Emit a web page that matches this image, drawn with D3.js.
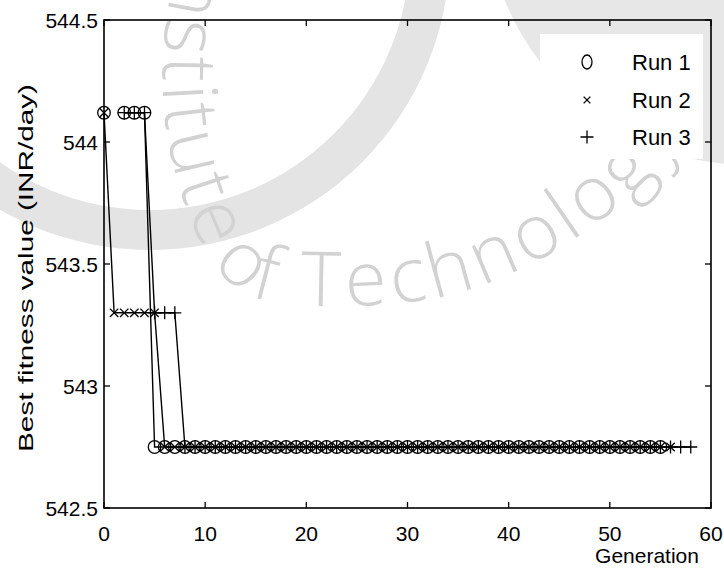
<!DOCTYPE html>
<html>
<head>
<meta charset="utf-8">
<script src="https://cdn.jsdelivr.net/npm/d3@7"></script>
<style>
  html, body { margin: 0; padding: 0; background: #fff; }
  svg { display: block; }
  text { font-family: "Liberation Sans", Arial, sans-serif; fill: #000; }
</style>
</head>
<body>
<svg id="chart" width="724" height="571"></svg>
<script>
// Best fitness value per generation (index = generation number); null = no sample
const run1 = [
  544.12, null, 544.12, 544.12, 544.12,
  542.75, 542.75, 542.75, 542.75, 542.75, 542.75, 542.75, 542.75, 542.75, 542.75,
  542.75, 542.75, 542.75, 542.75, 542.75, 542.75, 542.75, 542.75, 542.75, 542.75,
  542.75, 542.75, 542.75, 542.75, 542.75, 542.75, 542.75, 542.75, 542.75, 542.75,
  542.75, 542.75, 542.75, 542.75, 542.75, 542.75, 542.75, 542.75, 542.75, 542.75,
  542.75, 542.75, 542.75, 542.75, 542.75, 542.75, 542.75, 542.75, 542.75, 542.75,
  542.75
];
const run2 = [
  544.12, 543.30, 543.30, 543.30, 543.30, 543.30,
  542.75, 542.75, 542.75, 542.75, 542.75, 542.75, 542.75, 542.75, 542.75, 542.75,
  542.75, 542.75, 542.75, 542.75, 542.75, 542.75, 542.75, 542.75, 542.75, 542.75,
  542.75, 542.75, 542.75, 542.75, 542.75, 542.75, 542.75, 542.75, 542.75, 542.75,
  542.75, 542.75, 542.75, 542.75, 542.75, 542.75, 542.75, 542.75, 542.75, 542.75,
  542.75, 542.75, 542.75, 542.75, 542.75, 542.75, 542.75, 542.75, 542.75, 542.75,
  542.75
];
const run3 = [
  null, null, 544.12, 544.12, 544.12, 543.30, 543.30, 543.30,
  542.75, 542.75, 542.75, 542.75, 542.75, 542.75, 542.75, 542.75, 542.75, 542.75,
  542.75, 542.75, 542.75, 542.75, 542.75, 542.75, 542.75, 542.75, 542.75, 542.75,
  542.75, 542.75, 542.75, 542.75, 542.75, 542.75, 542.75, 542.75, 542.75, 542.75,
  542.75, 542.75, 542.75, 542.75, 542.75, 542.75, 542.75, 542.75, 542.75, 542.75,
  542.75, 542.75, 542.75, 542.75, 542.75, 542.75, 542.75, 542.75, 542.75, 542.75,
  542.75
];
const seriesNames = ["Run 1", "Run 2", "Run 3"];
const xTicks = [0, 10, 20, 30, 40, 50, 60];
const yTicks = [542.5, 543, 543.5, 544, 544.5];
const xLabel = "Generation";
const yLabel = "Best fitness value (INR/day)";
const watermarkWords = ["Institute", "of Technology"];

const svg = d3.select("#chart");
const plot = { left: 104, right: 711, top: 20, bottom: 508 };

const x = d3.scaleLinear().domain([0, 60]).range([plot.left, plot.right]);
const y = d3.scaleLinear().domain([542.5, 544.5]).range([plot.bottom, plot.top]);

// faint background watermark: sweeping arcs and curved lettering
const wm = svg.append("g").attr("class", "watermark");
const arcGen = d3.arc();
wm.append("path")
  .attr("transform", "translate(150,-50)")
  .attr("d", arcGen({ innerRadius: 260, outerRadius: 300, startAngle: 0, endAngle: 2 * Math.PI }))
  .attr("fill", "#e4e4e4");
wm.append("path")
  .attr("transform", "translate(750,-100)")
  .attr("d", arcGen({ innerRadius: 0, outerRadius: 265, startAngle: 0, endAngle: 2 * Math.PI }))
  .attr("fill", "#e7e7e7");

// baseline curve for the lettering
const wmBase = [
  [215, -140], [178, -40], [163, 60], [168, 140], [188, 212], [212, 262],
  [245, 293], [300, 305], [440, 297], [535, 262], [605, 217], [650, 178], [712, 92]
];
const basePath = wm.append("path")
  .attr("id", "wmArc")
  .attr("fill", "none")
  .attr("d", d3.line().curve(d3.curveCatmullRom.alpha(0.5))(wmBase));

// arc-length offset of the curve point closest to (px, py)
function offsetNear(px, py) {
  const node = basePath.node();
  const total = node.getTotalLength();
  let best = 0, bestD = Infinity;
  for (let s = 0; s <= total; s += 1) {
    const p = node.getPointAtLength(s);
    const d = (p.x - px) ** 2 + (p.y - py) ** 2;
    if (d < bestD) { bestD = d; best = s; }
  }
  return best;
}
const splitAt = offsetNear(212, 264);
const wmStyle = sel => sel
  .style("font-family", "'Open Sans', 'Noto Sans', sans-serif")
  .style("font-weight", 300)
  .style("font-size", "76px")
  .style("fill", "#d2d2d2");

wm.append("text").call(wmStyle)
  .attr("text-anchor", "end")
  .style("letter-spacing", "4px")
  .append("textPath")
  .attr("href", "#wmArc")
  .attr("startOffset", splitAt - 12)
  .text(watermarkWords[0]);
wm.append("text").call(wmStyle)
  .attr("text-anchor", "start")
  .style("letter-spacing", "5px")
  .append("textPath")
  .attr("href", "#wmArc")
  .attr("startOffset", splitAt)
  .text(watermarkWords[1]);

// series lines and markers
const line = d3.line()
  .defined(d => d != null)
  .x((d, i) => x(i))
  .y(d => y(d));

const runs = [run1, run2, run3];
const lineG = svg.append("g");
runs.forEach(vals => {
  lineG.append("path")
    .attr("d", line(vals))
    .attr("fill", "none")
    .attr("stroke", "#000")
    .attr("stroke-width", 1.4);
});

function drawMarker(g, kind, cx, cy, s) {
  if (kind === 0) {
    g.append("circle").attr("cx", cx).attr("cy", cy).attr("r", 6.3)
      .attr("fill", "none").attr("stroke", "#000").attr("stroke-width", 1.3);
  } else if (kind === 1) {
    const a = 4.2 * s;
    g.append("path")
      .attr("d", `M${cx - a},${cy - a}L${cx + a},${cy + a}M${cx - a},${cy + a}L${cx + a},${cy - a}`)
      .attr("stroke", "#000").attr("stroke-width", 1.3);
  } else {
    const a = 6.5 * s;
    g.append("path")
      .attr("d", `M${cx - a},${cy}L${cx + a},${cy}M${cx},${cy - a}L${cx},${cy + a}`)
      .attr("stroke", "#000").attr("stroke-width", 1.3);
  }
}

const markG = svg.append("g");
runs.forEach((vals, k) => {
  vals.forEach((v, i) => {
    if (v != null) drawMarker(markG, k, x(i), y(v), 1);
  });
});

// frame with inward ticks on all four sides
const axG = svg.append("g");
axG.append("rect")
  .attr("x", plot.left).attr("y", plot.top)
  .attr("width", plot.right - plot.left).attr("height", plot.bottom - plot.top)
  .attr("fill", "none").attr("stroke", "#000").attr("stroke-width", 1.6);

const tl = 6;
xTicks.forEach(t => {
  axG.append("line").attr("x1", x(t)).attr("x2", x(t))
    .attr("y1", plot.bottom).attr("y2", plot.bottom - tl).attr("stroke", "#000").attr("stroke-width", 1.3);
  axG.append("line").attr("x1", x(t)).attr("x2", x(t))
    .attr("y1", plot.top).attr("y2", plot.top + tl).attr("stroke", "#000").attr("stroke-width", 1.3);
  axG.append("text").attr("x", x(t)).attr("y", 541)
    .attr("text-anchor", "middle").style("font-size", "21px").text(t);
});
yTicks.forEach(t => {
  axG.append("line").attr("x1", plot.left).attr("x2", plot.left + tl)
    .attr("y1", y(t)).attr("y2", y(t)).attr("stroke", "#000").attr("stroke-width", 1.3);
  axG.append("line").attr("x1", plot.right).attr("x2", plot.right - tl)
    .attr("y1", y(t)).attr("y2", y(t)).attr("stroke", "#000").attr("stroke-width", 1.3);
  axG.append("text").attr("x", 98).attr("y", y(t) + 7.5)
    .attr("text-anchor", "end").style("font-size", "21px").text(d3.format("~g")(t));
});

// axis titles
svg.append("text").attr("x", 647).attr("y", 563)
  .attr("text-anchor", "middle").style("font-size", "21px").text(xLabel);
svg.append("text")
  .attr("transform", `translate(33,${(plot.top + plot.bottom) / 2 + 4}) rotate(-90)`)
  .attr("text-anchor", "middle")
  .attr("textLength", 368).attr("lengthAdjust", "spacingAndGlyphs")
  .style("font-size", "21px").text(yLabel);

// legend
const lg = svg.append("g");
lg.append("rect").attr("x", 540).attr("y", 34).attr("width", 163).attr("height", 125).attr("fill", "#fff");
const rowsY = [62, 100, 137];
seriesNames.forEach((name, k) => {
  if (k === 0) {
    lg.append("ellipse").attr("cx", 587).attr("cy", rowsY[k]).attr("rx", 5).attr("ry", 7)
      .attr("fill", "none").attr("stroke", "#000").attr("stroke-width", 1.3);
  } else if (k === 1) {
    drawMarker(lg, 1, 587, rowsY[k], 0.8);
  } else {
    drawMarker(lg, 2, 587, rowsY[k], 1.0);
  }
  lg.append("text").attr("x", 632).attr("y", rowsY[k] + 8)
    .style("font-size", "22px").text(name);
});
</script>
</body>
</html>
